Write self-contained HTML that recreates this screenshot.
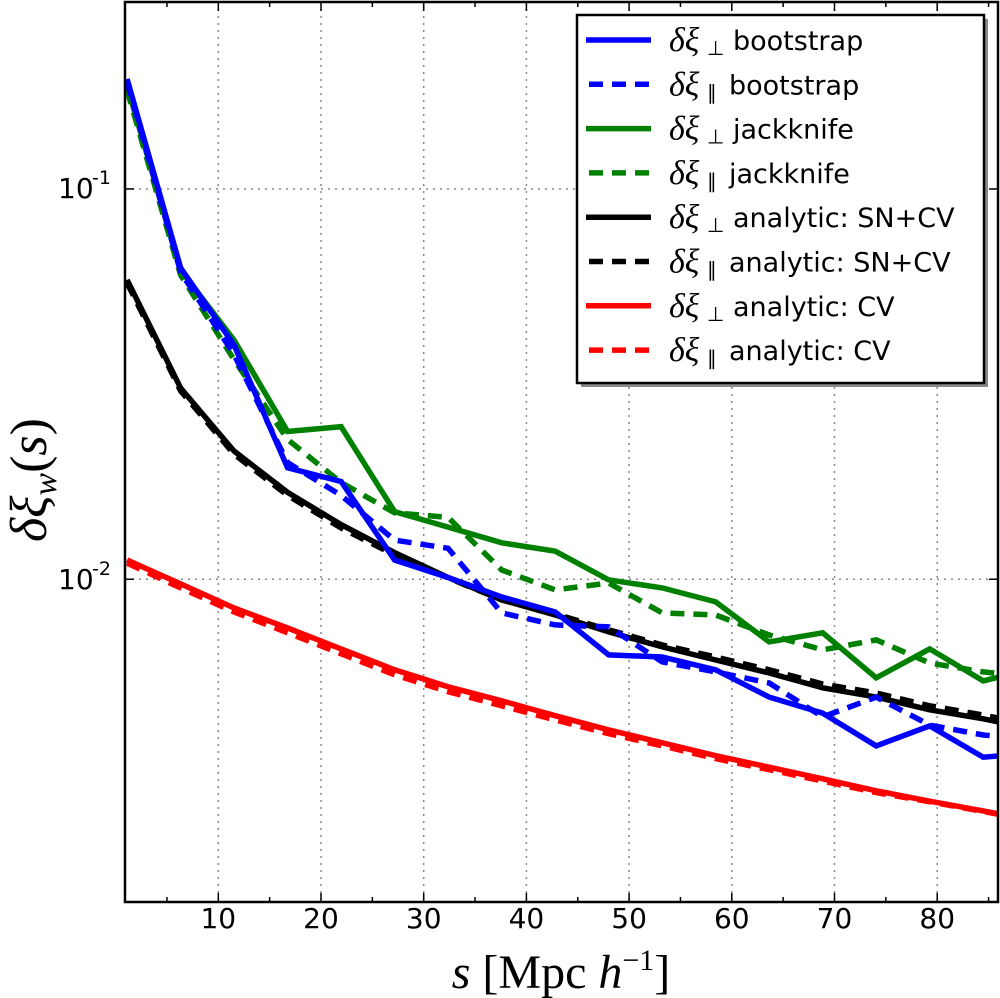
<!DOCTYPE html>
<html><head><meta charset="utf-8">
<style>
html,body{margin:0;padding:0;background:#fff;}
svg{display:block;}
</style></head>
<body>
<svg id="chart" width="1000" height="998" viewBox="0 0 1000 998" xmlns="http://www.w3.org/2000/svg" style="font-family:'DejaVu Sans','Liberation Sans',sans-serif;">
  <defs><clipPath id="plotclip"><rect x="125" y="2" width="873" height="900"/></clipPath></defs>
  <rect x="125" y="2" width="873" height="900" fill="#fff"/>
  <g id="grid"></g>
  <g id="series" clip-path="url(#plotclip)"></g>
  <rect x="125" y="2" width="873" height="900" fill="none" stroke="#000" stroke-width="2.5"/>
  <g id="ticks"></g>
  <g id="ticklabels"></g>
  <g>
    <text x="58" y="198" font-size="28">10</text><text x="92" y="184" font-size="19">-1</text>
  </g>
  <g>
    <text x="58" y="589" font-size="28">10</text><text x="92" y="575" font-size="19">-2</text>
  </g>
  <text x="561" y="988" font-size="48" text-anchor="middle" style="font-family:'Liberation Serif',serif;"><tspan font-style="italic">s</tspan> [Mpc <tspan font-style="italic">h</tspan><tspan font-size="30" dy="-18">−1</tspan><tspan dy="18">]</tspan></text>
  <text transform="translate(46,480) rotate(-90)" font-size="52" text-anchor="middle" style="font-family:'Liberation Serif',serif;font-style:italic;">δξ<tspan font-size="34" dy="10">w</tspan><tspan dy="-10" font-style="normal">(</tspan>s<tspan font-style="normal">)</tspan></text>
  <g id="legend">
    <rect x="581" y="19" width="407" height="368" fill="#888"/>
    <rect x="577" y="15" width="407" height="368" fill="#fff" stroke="#000" stroke-width="2.5"/>
  </g>
</svg>
<script>
const sVals = [1.12, 6.33, 11.54, 16.75, 21.96, 27.17, 32.38, 37.59, 42.8, 48.01, 53.22, 58.43, 63.64, 68.85, 74.06, 79.27, 84.48, 89.69];
const bootPerp = [0.1913, 0.0628, 0.0398, 0.0193, 0.0178, 0.0112, 0.0101, 0.00901, 0.00824, 0.0064, 0.00632, 0.00586, 0.00499, 0.00454, 0.00374, 0.00421, 0.0035, 0.00359];
const bootPar = [0.188, 0.0613, 0.0376, 0.0199, 0.0164, 0.0126, 0.0120, 0.0082, 0.00764, 0.00755, 0.00614, 0.00579, 0.00542, 0.00444, 0.00499, 0.00423, 0.00399, 0.00388];
const jackPerp = [0.1836, 0.0620, 0.0410, 0.0239, 0.0246, 0.0149, 0.0136, 0.0124, 0.0118, 0.00996, 0.0095, 0.00875, 0.00691, 0.00729, 0.00559, 0.00663, 0.00549, 0.00592];
const jackPar = [0.179, 0.0602, 0.0365, 0.0228, 0.0177, 0.0148, 0.0144, 0.01056, 0.00939, 0.00978, 0.0082, 0.0081, 0.0072, 0.00659, 0.00699, 0.0061, 0.00579, 0.00559];
const snPerp = [0.0585, 0.0309, 0.0213, 0.0167, 0.0138, 0.0117, 0.0101, 0.00885, 0.0081, 0.00733, 0.00671, 0.00621, 0.00575, 0.00527, 0.00499, 0.00463, 0.00439, 0.00411];
const snPar = [0.0574, 0.0304, 0.0209, 0.0164, 0.01353, 0.01154, 0.01008, 0.00885, 0.00815, 0.00742, 0.00679, 0.00632, 0.00586, 0.00539, 0.00511, 0.00474, 0.00449, 0.00421];
const cvPerp = [0.0112, 0.00973, 0.00844, 0.0075, 0.00663, 0.00586, 0.0053, 0.00488, 0.00447, 0.00411, 0.00381, 0.00353, 0.0033, 0.00308, 0.00287, 0.0027, 0.00255, 0.0024];
const cvPar = [0.0110, 0.0095, 0.00824, 0.00729, 0.00644, 0.00569, 0.00515, 0.00474, 0.00436, 0.00402, 0.00374, 0.00347, 0.00325, 0.00304, 0.00284, 0.00269, 0.00254, 0.0024];
const xTicks = [10, 20, 30, 40, 50, 60, 70, 80];
const xMinorTicks = [5, 15, 25, 35, 45, 55, 65, 75, 85];
const yTicks = [0.1, 0.01];

const X0 = 125, X1 = 998, Y0 = 2, Y1 = 902;
const xMin = 0.915, xMax = 85.92;
const lMin = -2.827, lMax = -0.521;
function xs(v){ return X0 + (v - xMin) / (xMax - xMin) * (X1 - X0); }
function ys(v){ return Y1 - (Math.log10(v) - lMin) / (lMax - lMin) * (Y1 - Y0); }

const NS = "http://www.w3.org/2000/svg";
function mk(tag, attrs, parent){
  const e = document.createElementNS(NS, tag);
  for (const k in attrs) e.setAttribute(k, attrs[k]);
  parent.appendChild(e);
  return e;
}
const grid = document.getElementById('grid');
const ticks = document.getElementById('ticks');
const tl = document.getElementById('ticklabels');
xTicks.forEach(t => {
  const x = xs(t);
  const g = mk('line', {x1:x, x2:x, y1:Y0, y2:Y1, stroke:'#888', 'stroke-width':1.5, 'stroke-dasharray':'2,5'}, grid);
  
  
  const a = mk('line', {x1:x, x2:x, y1:Y1, y2:Y1-9, stroke:'#000', 'stroke-width':1.5}, ticks);
  
  
  const b = mk('line', {x1:x, x2:x, y1:Y0, y2:Y0+9, stroke:'#000', 'stroke-width':1.5}, ticks);
  
  
  const lab = mk('text', {x:x, y:928, 'font-size':28, 'text-anchor':'middle'}, tl);
  lab.textContent = String(t);
  
  
});
xMinorTicks.forEach(t => {
  const x = xs(t);
  if (x > X1) return;
  const a = mk('line', {x1:x, x2:x, y1:Y1, y2:Y1-5, stroke:'#000', 'stroke-width':1.5}, ticks);
  
  
  const b = mk('line', {x1:x, x2:x, y1:Y0, y2:Y0+5, stroke:'#000', 'stroke-width':1.5}, ticks);
  
  
});
yTicks.forEach(t => {
  const y = ys(t);
  const g = mk('line', {x1:X0, x2:X1, y1:y, y2:y, stroke:'#888', 'stroke-width':1.5, 'stroke-dasharray':'2,5'}, grid);
  
  
  const a = mk('line', {x1:X0, x2:X0+9, y1:y, y2:y, stroke:'#000', 'stroke-width':1.5}, ticks);
  
  
  const b = mk('line', {x1:X1-9, x2:X1, y1:y, y2:y, stroke:'#000', 'stroke-width':1.5}, ticks);
  
  
});

const seriesList = [
  {vals: cvPar, color:'#ff0000', dash:true, name:'cv-parallel'},
  {vals: cvPerp, color:'#ff0000', dash:false, name:'cv-perp'},
  {vals: snPar, color:'#000000', dash:true, name:'sncv-parallel'},
  {vals: snPerp, color:'#000000', dash:false, name:'sncv-perp'},
  {vals: jackPar, color:'#008000', dash:true, name:'jackknife-parallel'},
  {vals: jackPerp, color:'#008000', dash:false, name:'jackknife-perp'},
  {vals: bootPar, color:'#0000ff', dash:true, name:'bootstrap-parallel'},
  {vals: bootPerp, color:'#0000ff', dash:false, name:'bootstrap-perp'}
];
const sg = document.getElementById('series');
seriesList.forEach(s => {
  const pts = s.vals.map((v,i) => xs(sVals[i]).toFixed(1) + ',' + ys(v).toFixed(1)).join(' ');
  const attrs = {points:pts, fill:'none', stroke:s.color, 'stroke-width':5.5, 'stroke-linejoin':'miter'};
  if (s.dash) attrs['stroke-dasharray'] = '14,9';
  const p = mk('polyline', attrs, sg);
  
  
});

const legendItems = [
  {color:'#0000ff', dash:false, sub:'⊥', label:'bootstrap'},
  {color:'#0000ff', dash:true, sub:'∥', label:'bootstrap'},
  {color:'#008000', dash:false, sub:'⊥', label:'jackknife'},
  {color:'#008000', dash:true, sub:'∥', label:'jackknife'},
  {color:'#000000', dash:false, sub:'⊥', label:'analytic: SN+CV'},
  {color:'#000000', dash:true, sub:'∥', label:'analytic: SN+CV'},
  {color:'#ff0000', dash:false, sub:'⊥', label:'analytic: CV'},
  {color:'#ff0000', dash:true, sub:'∥', label:'analytic: CV'}
];
const lg = document.getElementById('legend');
legendItems.forEach((it, i) => {
  const y = 40 + i * 44.3;
  const g = mk('g', {}, lg);
  
  
  const la = {x1:586, x2:651, y1:y, y2:y, stroke:it.color, 'stroke-width':5.5};
  if (it.dash) { la['stroke-dasharray'] = '14,9'; la.x1 = 589; }
  const l = mk('line', la, g);
  
  
  const m = mk('text', {x:669, y:y+11, 'font-size':34, style:"font-family:'Liberation Serif',serif;font-style:italic;"}, g);
  m.textContent = 'δξ';
  
  
  const sb = mk('text', {x:707, y:y+15, 'font-size':20}, g);
  sb.textContent = it.sub;
  
  
  const lb = mk('text', {x:(it.sub==='⊥'?733:729), y:y+10, 'font-size':27}, g);
  lb.textContent = it.label;
  
  
});
</script>
</body></html>
